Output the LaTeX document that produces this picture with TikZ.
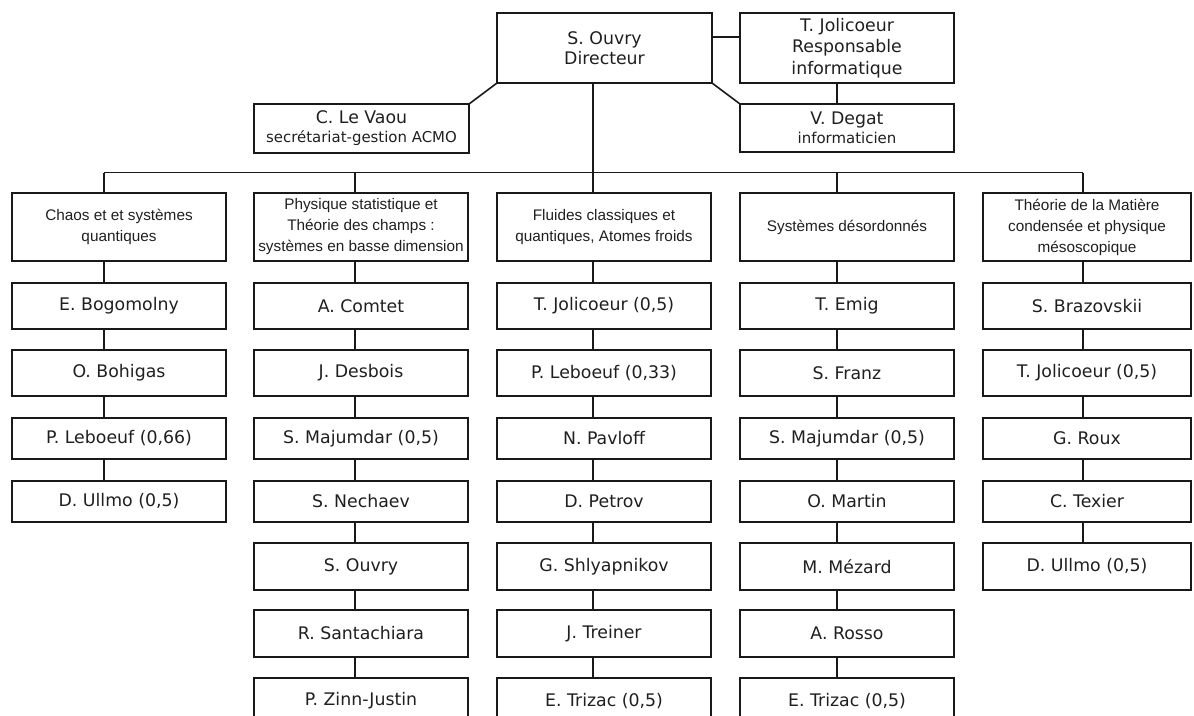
\documentclass[tikz,border=0pt]{standalone}
\usepackage{fontspec}
\setmainfont{DejaVu Sans}
\newfontfamily\hfont{Liberation Sans}
\begin{document}
\begin{tikzpicture}[x=0.75pt,y=-0.75pt,
  box/.style={draw=black!90, line width=1.6pt, inner sep=0pt, outer sep=0pt,
    align=center, text=black!88},
  mem/.style={box, minimum width=160.5pt, font=\fontsize{13}{15}\selectfont},
  memn/.style={box, minimum width=156pt, font=\fontsize{13}{15}\selectfont},
  hdr/.style={box, minimum height=51pt, font=\hfont\fontsize{11.5}{15.75}\selectfont},
  r1/.style={minimum height=34.5pt},
  r2/.style={minimum height=34.5pt},
  r3/.style={minimum height=30.75pt},
  r4/.style={minimum height=30.75pt},
  r5/.style={minimum height=35.25pt},
  r6/.style={minimum height=35.25pt},
  r7/.style={minimum height=34.5pt},
  top/.style={box, minimum width=160.5pt, font=\fontsize{13}{15}\selectfont},
  link/.style={draw=black!90, line width=1.2pt}
]
\useasboundingbox (0,0) rectangle (1194,715);
\clip (0,0) rectangle (1194,715);

% top level
\node[top, minimum width=161.25pt, minimum height=52.5pt] (dir) at (604.5,48) {S. Ouvry\\Directeur};
\node[top, minimum height=52.5pt, font=\fontsize{13}{16}\selectfont] (jol) at (847,48) {T. Jolicoeur\\Responsable\\informatique};
\node[top, minimum width=161.25pt, minimum height=36.75pt, font=\fontsize{13}{14.25}\selectfont] (vaou) at (361.5,128.5) {C. Le Vaou\\{\fontsize{11.2}{14.25}\selectfont secrétariat-gestion ACMO}};
\node[top, minimum height=36pt, font=\fontsize{13}{14.25}\selectfont] (deg) at (847,128) {V. Degat\\{\fontsize{11.2}{14.25}\selectfont informaticien}};

% headers
\node[hdr, minimum width=160.5pt] (a0) at (119,227) {Chaos et et systèmes\\quantiques};
\node[hdr, minimum width=160.5pt] (b0) at (361,227) {Physique statistique et\\Théorie des champs :\\systèmes en basse dimension};
\node[hdr, minimum width=160.5pt] (c0) at (604,227) {Fluides classiques et\\quantiques, Atomes froids};
\node[hdr, minimum width=160.5pt] (d0) at (847,227) {Systèmes désordonnés};
\node[hdr, minimum width=156pt] (e0) at (1087,227) {Théorie de la Matière\\condensée et physique\\mésoscopique};

% column 1
\node[mem,r1] (a1) at (119,306) {E. Bogomolny};
\node[mem,r2] (a2) at (119,373) {O. Bohigas};
\node[mem,r3] (a3) at (119,438.5) {P. Leboeuf (0,66)};
\node[mem,r4] (a4) at (119,501.5) {D. Ullmo (0,5)};

% column 2
\node[mem,r1] (b1) at (361,306) {A. Comtet};
\node[mem,r2] (b2) at (361,373) {J. Desbois};
\node[mem,r3] (b3) at (361,438.5) {S. Majumdar (0,5)};
\node[mem,r4] (b4) at (361,501.5) {S. Nechaev};
\node[mem,r5] (b5) at (361,566.5) {S. Ouvry};
\node[mem,r6] (b6) at (361,633.5) {R. Santachiara};
\node[mem,r7] (b7) at (361,701) {P. Zinn-Justin};

% column 3
\node[mem,r1] (c1) at (604,306) {T. Jolicoeur (0,5)};
\node[mem,r2] (c2) at (604,373) {P. Leboeuf (0,33)};
\node[mem,r3] (c3) at (604,438.5) {N. Pavloff};
\node[mem,r4] (c4) at (604,501.5) {D. Petrov};
\node[mem,r5] (c5) at (604,566.5) {G. Shlyapnikov};
\node[mem,r6] (c6) at (604,633.5) {J. Treiner};
\node[mem,r7] (c7) at (604,701) {E. Trizac (0,5)};

% column 4
\node[mem,r1] (d1) at (847,306) {T. Emig};
\node[mem,r2] (d2) at (847,373) {S. Franz};
\node[mem,r3] (d3) at (847,438.5) {S. Majumdar (0,5)};
\node[mem,r4] (d4) at (847,501.5) {O. Martin};
\node[mem,r5] (d5) at (847,566.5) {M. Mézard};
\node[mem,r6] (d6) at (847,633.5) {A. Rosso};
\node[mem,r7] (d7) at (847,701) {E. Trizac (0,5)};

% column 5
\node[memn,r1] (e1) at (1087,306) {S. Brazovskii};
\node[memn,r2] (e2) at (1087,373) {T. Jolicoeur (0,5)};
\node[memn,r3] (e3) at (1087,438.5) {G. Roux};
\node[memn,r4] (e4) at (1087,501.5) {C. Texier};
\node[memn,r5] (e5) at (1087,566.5) {D. Ullmo (0,5)};

% bus coordinates
\coordinate (busa) at (104,172.5);
\coordinate (busb) at (355,172.5);
\coordinate (busc) at (593,172.5);
\coordinate (busd) at (837,172.5);
\coordinate (buse) at (1083,172.5);

% top connectors
\draw[link] ([yshift=8.25pt]dir.east) -- ([yshift=8.25pt]jol.west);
\draw[link] (dir.south east) -- (deg.north west);
\draw[link] (dir.south west) -- (vaou.north east);
\draw[link] (jol.south -| busd) -- (deg.north -| busd);
\draw[link] (dir.south -| busc) -- (busc);
\draw[link] (busa) -- (buse);

% column connectors
\foreach \col/\n in {a/4,b/7,c/7,d/7,e/5}{
  \draw[link] (bus\col) -- (bus\col |- \col0.north);
  \foreach \i in {1,...,\n}{
    \pgfmathtruncatemacro\p{\i-1}
    \draw[link] (bus\col |- \col\p.south) -- (bus\col |- \col\i.north);
  }
}
\end{tikzpicture}
\end{document}
